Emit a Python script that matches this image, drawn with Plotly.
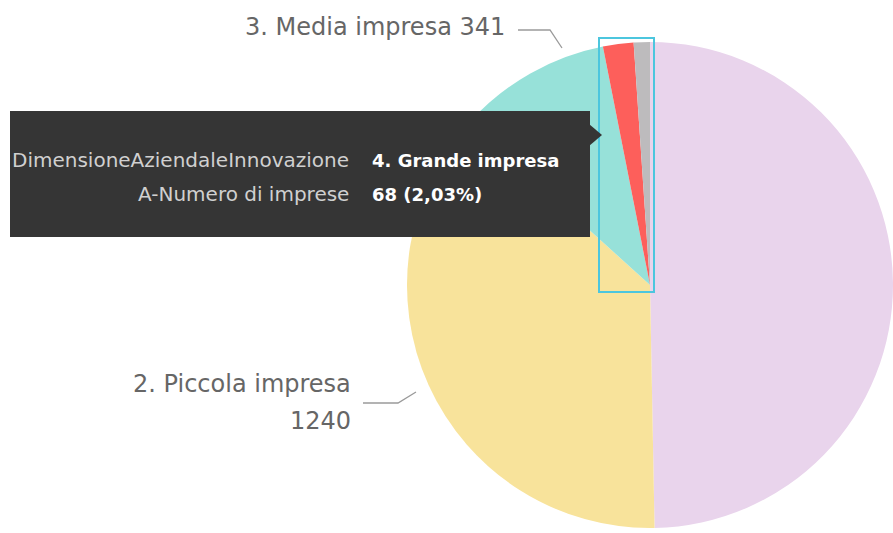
import plotly.graph_objects as go

# Data
categories = ["1. Micro impresa", "2. Piccola impresa", "3. Media impresa", "4. Grande impresa", "5. Non classificata"]
values = [1665, 1240, 341, 68, 36]
colors = ["#E9D4EC", "#F8E39B", "#97E1D9", "#FD5F5B", "#BDBBBD"]

tooltip_field = "DimensioneAziendaleInnovazione"
tooltip_measure = "A-Numero di imprese"
sel = 3
total = sum(values)
pct_txt = f"{values[sel] / total * 100:.2f}".replace(".", ",")

W, H = 893, 533


def px(x):
    return x / W


def py(y):
    return 1 - y / H


# pie geometry: centre ~(650,285), radius ~243
cx, cy, r = 650, 285, 243
fig = go.Figure(go.Pie(
    labels=categories,
    values=values,
    sort=False,
    direction="clockwise",
    rotation=0,
    marker=dict(colors=colors, line=dict(width=0)),
    textinfo="none",
    hoverinfo="skip",
    domain=dict(x=[px(cx - r), min(1, px(cx + r))], y=[py(cy + r), py(cy - r)]),
    showlegend=False,
))

shapes = []
# selection highlight around slices 4 and 5
shapes.append(dict(type="rect", xref="paper", yref="paper",
                   x0=px(599), x1=px(654), y0=py(292), y1=py(38),
                   line=dict(color="#4CC6DE", width=2), layer="above"))
# leader lines
shapes.append(dict(type="path", xref="paper", yref="paper",
                   path=f"M {px(518)},{py(30)} L {px(550)},{py(30)} L {px(562)},{py(48)}",
                   line=dict(color="#9A9A9A", width=1.3), layer="above"))
shapes.append(dict(type="path", xref="paper", yref="paper",
                   path=f"M {px(363)},{py(403)} L {px(398)},{py(403)} L {px(416)},{py(392)}",
                   line=dict(color="#9A9A9A", width=1.3), layer="above"))
# tooltip box
shapes.append(dict(type="rect", xref="paper", yref="paper",
                   x0=px(10), x1=px(590), y0=py(237), y1=py(111),
                   fillcolor="#353535", line=dict(width=0), layer="above"))
shapes.append(dict(type="path", xref="paper", yref="paper",
                   path=f"M {px(589)},{py(124)} L {px(602)},{py(135)} L {px(589)},{py(146)} Z",
                   fillcolor="#353535", line=dict(width=0), layer="above"))

lab_font = dict(family="DejaVu Sans", size=24, color="#666666")
tip_font = dict(family="DejaVu Sans", size=20, color="#D0D0D0")
tip_bold = dict(family="DejaVu Sans", size=18, color="#FFFFFF")

annotations = [
    dict(x=px(507), y=py(27), xref="paper", yref="paper", xanchor="right", yanchor="middle",
         text=f"{categories[2]} {values[2]}", showarrow=False, font=lab_font),
    dict(x=px(353), y=py(384), xref="paper", yref="paper", xanchor="right", yanchor="middle",
         text=f"{categories[1]}", showarrow=False, font=lab_font),
    dict(x=px(353), y=py(421), xref="paper", yref="paper", xanchor="right", yanchor="middle",
         text=f"{values[1]}", showarrow=False, font=lab_font),
    dict(x=px(351), y=py(160), xref="paper", yref="paper", xanchor="right", yanchor="middle",
         text=tooltip_field, showarrow=False, font=tip_font),
    dict(x=px(351), y=py(194), xref="paper", yref="paper", xanchor="right", yanchor="middle",
         text=tooltip_measure, showarrow=False, font=tip_font),
    dict(x=px(370), y=py(160), xref="paper", yref="paper", xanchor="left", yanchor="middle",
         text=f"<b>{categories[sel]}</b>", showarrow=False, font=tip_bold),
    dict(x=px(370), y=py(194), xref="paper", yref="paper", xanchor="left", yanchor="middle",
         text=f"<b>{values[sel]} ({pct_txt}%)</b>", showarrow=False, font=tip_bold),
]

fig.update_layout(
    width=W, height=H,
    margin=dict(l=0, r=0, t=0, b=0),
    paper_bgcolor="white", plot_bgcolor="white",
    shapes=shapes, annotations=annotations,
)

fig.write_html("out.html", config={"displayModeBar": False},
               post_script="document.body.style.margin='0px';document.body.style.overflow='hidden';")
